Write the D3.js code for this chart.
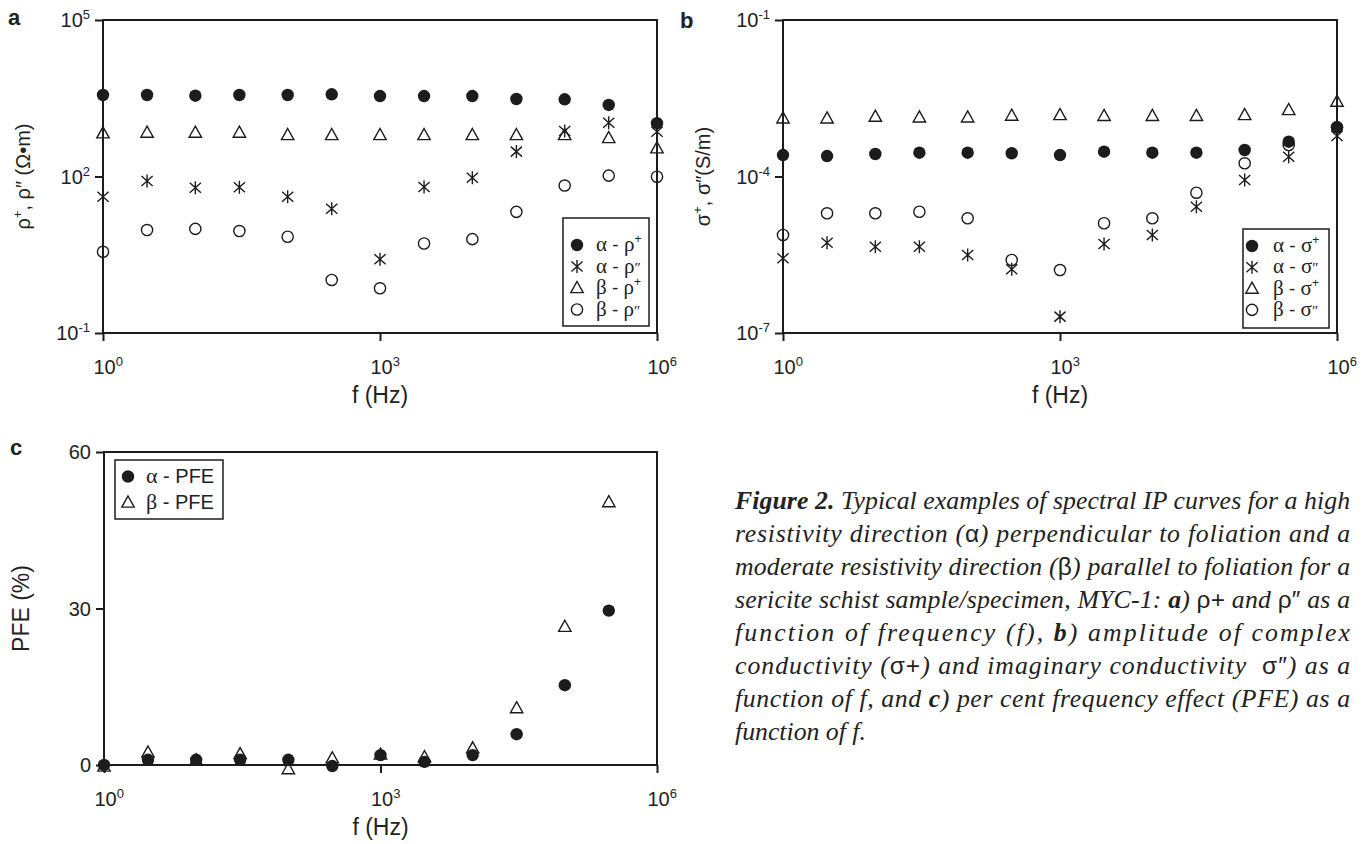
<!DOCTYPE html>
<html>
<head>
<meta charset="utf-8">
<script src="https://cdn.jsdelivr.net/npm/d3@7"></script>
<style>
  body { margin: 0; background: #fff; }
  text { fill: #222; white-space: pre; }
</style>
</head>
<body>
<script>
// frequencies (Hz)
var freqs = [1, 3, 10, 30, 100, 300, 1e3, 3e3, 1e4, 3e4, 1e5, 3e5, 1e6];
var freqsPFE = [1, 3, 10, 30, 100, 300, 1e3, 3e3, 1e4, 3e4, 1e5, 3e5];

// panel a, resistivity (ohm m)
var alphaRhoAmp = [3650, 3650, 3540, 3650, 3650, 3770, 3490, 3490, 3490, 3060, 3020, 2350, 1050];
var alphaRhoImag = [41, 82, 61, 62, 41, 24, 2.6, 63, 95, 300, 745, 1075, 723];
var betaRhoAmp = [673, 692, 692, 692, 625, 625, 625, 625, 625, 625, 625, 547, 348];
var betaRhoImag = [3.6, 9.4, 9.9, 9.0, 7.0, 1.04, 0.72, 5.2, 6.3, 21, 67, 104, 99];

// panel b, conductivity (S/m)
var alphaSigAmp = [2.58e-4, 2.47e-4, 2.70e-4, 2.86e-4, 2.86e-4, 2.79e-4, 2.58e-4, 2.99e-4, 2.86e-4, 2.86e-4, 3.22e-4, 4.65e-4, 8.77e-4];
var alphaSigImag = [2.70e-6, 5.38e-6, 4.51e-6, 4.51e-6, 3.13e-6, 1.66e-6, 2.06e-7, 5.08e-6, 7.57e-6, 2.64e-5, 8.57e-5, 2.40e-4, 5.98e-4];
var betaSigAmp = [1.30e-3, 1.30e-3, 1.40e-3, 1.36e-3, 1.36e-3, 1.47e-3, 1.51e-3, 1.45e-3, 1.45e-3, 1.45e-3, 1.51e-3, 1.88e-3, 2.72e-3];
var betaSigImag = [7.57e-6, 1.97e-5, 1.97e-5, 2.11e-5, 1.58e-5, 2.51e-6, 1.61e-6, 1.27e-5, 1.58e-5, 4.89e-5, 1.79e-4, 4.02e-4, 8.77e-4];

// panel c, PFE (%)
var alphaPFE = [0, 1, 1, 1, 1, -0.2, 1.9, 0.6, 1.9, 5.9, 15.3, 29.6];
var betaPFE = [-0.3, 2.4, 0.9, 2.1, -0.8, 1.3, 2.0, 1.5, 3.2, 10.9, 26.5, 50.4];

var xTicks = [1, 1e3, 1e6];

var SANS = "'Liberation Sans', Arial, Helvetica, sans-serif";
var SERIF = "'Liberation Serif', 'Times New Roman', serif";
var INK = "#1c1c1c";

var svg = d3.select("body").append("svg")
    .attr("width", 1364)
    .attr("height", 844);

// marker shapes
function markerPath(type) {
    if (type == "dot" || type == "ring") {
        var r = type == "dot" ? 6.2 : 5.6;
        return d3.symbol(d3.symbolCircle, Math.PI * r * r)();
    }
    if (type == "tri") return "M0,-6.5L6.2,4.6L-6.2,4.6Z";
    return "M0,-6.5V6.5M-5.6,-5L5.6,5M-5.6,5L5.6,-5";   // asterisk
}
function styleMarker(sel, type) {
    if (type == "dot") sel.attr("fill", INK).attr("stroke", "none");
    else sel.attr("fill", "none").attr("stroke", INK).attr("stroke-width", 1.4);
}

// "10" with a superscript exponent
function powerLabel(t, d) {
    var e = Math.round(Math.log10(d));
    t.text("10");
    t.append("tspan").attr("dy", -8).attr("font-size", 13).text(e);
}

function drawPanel(p) {
    var g = svg.append("g");
    var x = d3.scaleLog().domain([1, 1e6]).range([p.left, p.right]);
    var y = p.yLog
        ? d3.scaleLog().domain(p.yDomain).range([p.bottom, p.top])
        : d3.scaleLinear().domain(p.yDomain).range([p.bottom, p.top]);

    // x axis
    var gx = g.append("g")
        .attr("transform", "translate(0," + p.bottom + ")")
        .call(d3.axisBottom(x).tickValues(xTicks).tickSize(8).tickSizeOuter(0));
    gx.selectAll(".tick text").each(function(d) {
        var t = d3.select(this)
            .attr("text-anchor", "start")
            .attr("x", -10).attr("y", 41).attr("dy", 0);
        powerLabel(t, d);
    });

    // y axis
    var gy = g.append("g")
        .attr("transform", "translate(" + p.left + ",0)")
        .call(d3.axisLeft(y).tickValues(p.yTicks).tickSize(8).tickSizeOuter(0));
    gy.selectAll(".tick text").each(function(d) {
        var t = d3.select(this).attr("x", -13).attr("dy", "0.33em");
        if (p.yLog) powerLabel(t, d);
        else t.text(d);
    });

    g.selectAll(".domain").remove();
    g.selectAll(".tick line").attr("stroke", INK).attr("stroke-width", 2);
    g.selectAll(".tick text").attr("font-family", SANS).attr("font-size", 20).attr("fill", INK);

    // frame
    g.append("rect")
        .attr("x", p.left).attr("y", p.top)
        .attr("width", p.right - p.left).attr("height", p.bottom - p.top)
        .attr("fill", "none").attr("stroke", INK).attr("stroke-width", 2);

    // series
    p.series.forEach(function(s) {
        var pts = d3.zip(s.f, s.v);
        var m = g.append("g").selectAll("path")
            .data(pts)
            .enter()
            .append("path")
                .attr("transform", function(d) { return "translate(" + x(d[0]) + "," + y(d[1]) + ")"; })
                .attr("d", markerPath(s.type));
        styleMarker(m, s.type);
    });

    // x title
    g.append("text")
        .attr("x", (p.left + p.right) / 2).attr("y", p.bottom + 70)
        .attr("text-anchor", "middle")
        .attr("font-family", SANS).attr("font-size", 23)
        .text("f (Hz)");

    // y title
    var yt = g.append("text")
        .attr("transform", "translate(" + p.yTitleX + "," + (p.top + p.bottom) / 2 + ") rotate(-90)")
        .attr("text-anchor", "middle")
        .attr("font-family", SANS).attr("font-size", p.yTitleSize);
    p.yTitle.forEach(function(part) {
        yt.append("tspan").attr("dy", part[1]).attr("font-size", part[2] || null).text(part[0]);
    });

    // panel letter
    g.append("text")
        .attr("x", p.letterX).attr("y", p.letterY)
        .attr("font-family", SANS).attr("font-size", 22).attr("font-weight", "bold")
        .text(p.letter);

    // legend
    var L = p.legend;
    g.append("rect")
        .attr("x", L.x).attr("y", L.y).attr("width", L.w).attr("height", L.h)
        .attr("fill", "#fff").attr("stroke", INK).attr("stroke-width", 1.5);
    L.rows.forEach(function(row, i) {
        var cy = L.firstRow + i * L.step;
        var m = g.append("path")
            .attr("transform", "translate(" + L.markX + "," + cy + ")")
            .attr("d", markerPath(p.series[row.s].type));
        styleMarker(m, p.series[row.s].type);
        var t = g.append("text")
            .attr("x", L.textX).attr("y", cy + 6)
            .attr("font-size", L.font).attr("font-family", SANS);
        row.parts.forEach(function(part) {
            var ts = t.append("tspan").text(part[0]);
            if (part[1] == "g") ts.attr("font-family", SERIF).attr("font-size", L.font + 2);
            if (part[1] == "sup") ts.attr("font-size", 12).attr("dy", -8);
            if (part[1] == "pr") ts.attr("font-family", SERIF).attr("font-size", 15);
        });
    });
}

drawPanel({
    letter: "a", letterX: 8, letterY: 25,
    left: 103, right: 657, top: 20, bottom: 333,
    yLog: true, yDomain: [1e-1, 1e5], yTicks: [1e-1, 1e2, 1e5],
    yTitleX: 30, yTitleSize: 20,
    yTitle: [["ρ", 0], ["+", -8, 13], [", ρ″ (Ω•m)", 8]],
    series: [
        { f: freqs, v: alphaRhoAmp, type: "dot" },
        { f: freqs, v: alphaRhoImag, type: "star" },
        { f: freqs, v: betaRhoAmp, type: "tri" },
        { f: freqs, v: betaRhoImag, type: "ring" }
    ],
    legend: {
        x: 563, y: 218, w: 86, h: 108, markX: 577, textX: 596, firstRow: 245, step: 21.5, font: 19,
        rows: [
            { s: 0, parts: [["α", "g"], [" - "], ["ρ", "g"], ["+", "sup"]] },
            { s: 1, parts: [["α", "g"], [" - "], ["ρ", "g"], ["″", "pr"]] },
            { s: 2, parts: [["β", "g"], [" - "], ["ρ", "g"], ["+", "sup"]] },
            { s: 3, parts: [["β", "g"], [" - "], ["ρ", "g"], ["″", "pr"]] }
        ]
    }
});

drawPanel({
    letter: "b", letterX: 680, letterY: 28,
    left: 783, right: 1337, top: 20, bottom: 333,
    yLog: true, yDomain: [1e-7, 1e-1], yTicks: [1e-7, 1e-4, 1e-1],
    yTitleX: 710, yTitleSize: 20,
    yTitle: [["σ", 0], ["+", -8, 13], [", σ″(S/m)", 8]],
    series: [
        { f: freqs, v: alphaSigAmp, type: "dot" },
        { f: freqs, v: alphaSigImag, type: "star" },
        { f: freqs, v: betaSigAmp, type: "tri" },
        { f: freqs, v: betaSigImag, type: "ring" }
    ],
    legend: {
        x: 1243, y: 229, w: 86, h: 99, markX: 1252, textX: 1273, firstRow: 246, step: 21.3, font: 19,
        rows: [
            { s: 0, parts: [["α", "g"], [" - "], ["σ", "g"], ["+", "sup"]] },
            { s: 1, parts: [["α", "g"], [" - "], ["σ", "g"], ["″", "pr"]] },
            { s: 2, parts: [["β", "g"], [" - "], ["σ", "g"], ["+", "sup"]] },
            { s: 3, parts: [["β", "g"], [" - "], ["σ", "g"], ["″", "pr"]] }
        ]
    }
});

drawPanel({
    letter: "c", letterX: 10, letterY: 455,
    left: 104, right: 657, top: 452, bottom: 765,
    yLog: false, yDomain: [0, 60], yTicks: [0, 30, 60],
    yTitleX: 29, yTitleSize: 23,
    yTitle: [["PFE (%)", 0]],
    series: [
        { f: freqsPFE, v: betaPFE, type: "tri" },
        { f: freqsPFE, v: alphaPFE, type: "dot" }
    ],
    legend: {
        x: 115, y: 460, w: 108, h: 59, markX: 128, textX: 146, firstRow: 476.5, step: 26, font: 20,
        rows: [
            { s: 1, parts: [["α", "g"], [" - PFE"]] },
            { s: 0, parts: [["β", "g"], [" - PFE"]] }
        ]
    }
});

// caption, justified to the column width except the last line
var captionLines = [
    [["Figure 2.", "bi"], [" Typical examples of spectral IP curves for a high", "i"]],
    [["resistivity direction (", "i"], ["α", "g"], [") perpendicular to foliation and a", "i"]],
    [["moderate resistivity direction (", "i"], ["β", "g"], [") parallel to foliation for a", "i"]],
    [["sericite schist sample/specimen, MYC-1: ", "i"], ["a", "bi"], [") ", "i"], ["ρ+", "g"], [" and ", "i"], ["ρ″", "g"], [" as a", "i"]],
    [["function of frequency (f), ", "i"], ["b", "bi"], [") amplitude of complex", "i"]],
    [["conductivity (", "i"], ["σ+", "g"], [") and imaginary conductivity  ", "i"], ["σ″", "g"], [") as a", "i"]],
    [["function of f, and ", "i"], ["c", "bi"], [") per cent frequency effect (PFE) as a", "i"]],
    [["function of f.", "i"]]
];

var capWidth = 615, capBase = 22;
var cap = svg.append("g");
var capTexts = captionLines.map(function(line, i) {
    var t = cap.append("text")
        .attr("x", 735).attr("y", 509 + i * 33)
        .attr("font-family", SERIF);
    line.forEach(function(seg) {
        var ts = t.append("tspan").text(seg[0]).attr("class", seg[1]);
        if (seg[1] == "i") ts.attr("font-style", "italic");
        if (seg[1] == "bi") ts.attr("font-style", "italic").attr("font-weight", "bold");
        if (seg[1] == "g") ts.attr("font-family", SANS);
    });
    return t;
});
function sizeCaption(fs) {
    capTexts.forEach(function(t) {
        t.attr("font-size", fs);
        t.selectAll("tspan.g").attr("font-size", fs * 0.95);
    });
}
// pick the font size so the fullest lines fill the column naturally
sizeCaption(capBase);
var widest = d3.max([0, 3], function(i) { return capTexts[i].node().getComputedTextLength(); });
var fs = Math.min(26, capBase * (capWidth - 4) / widest);
sizeCaption(fs);
capTexts.forEach(function(t, i) {
    if (i < capTexts.length - 1) t.attr("textLength", capWidth).attr("lengthAdjust", "spacing");
});
</script>
</body>
</html>
